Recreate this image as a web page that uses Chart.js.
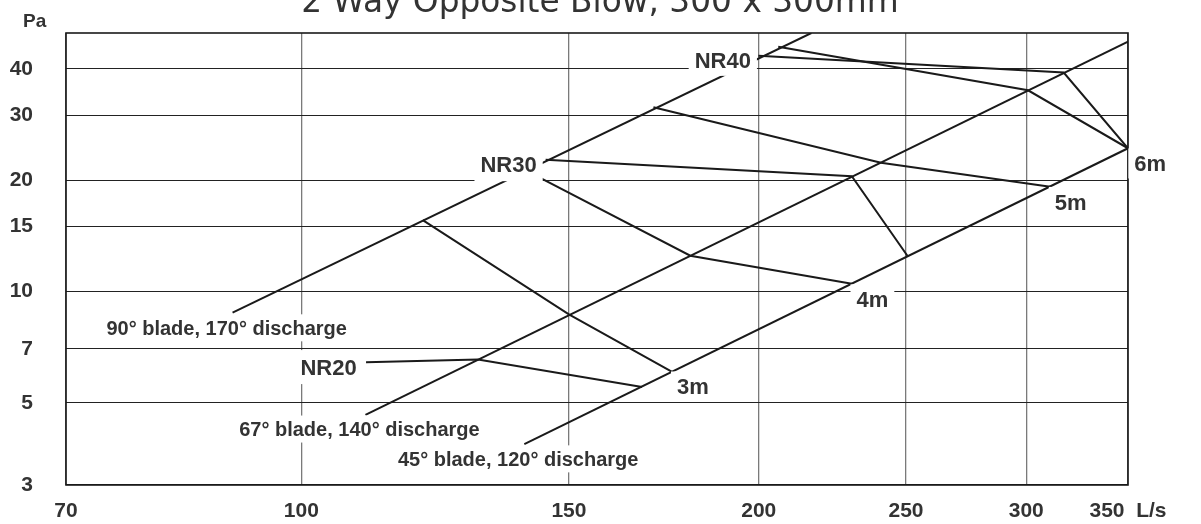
<!DOCTYPE html>
<html><head><meta charset="utf-8">
<script src="https://cdn.jsdelivr.net/npm/chart.js@4.4.1/dist/chart.umd.min.js"></script>
<style>html,body{margin:0;padding:0;background:#fff;}#wrap{width:1201px;height:524px;}</style>
</head><body><div id="wrap"><canvas id="c" width="1201" height="524"></canvas></div>
<script>
// ---- data (airflow L/s, pressure Pa) ----
const titleText = '2 Way Opposite Blow, 300 x 300mm';
const xUnit = 'L/s';
const yUnit = 'Pa';
const xTicks = [70, 100, 150, 200, 250, 300, 350];
const yTicks = [3, 5, 7, 10, 15, 20, 30, 40];
const xRange = [70, 350];
const yRange = [3, 50];

const blade90 = [[90.1, 8.77], [216.6, 50]];
const blade67 = [[110.2, 4.64], [350, 47.4]];
const blade45 = [[140.2, 3.87], [350, 24.4]];

const nr20 = [[110.3, 6.44], [130.7, 6.55], [167.6, 5.52]];
const nr30 = [[144.8, 22.7], [230.3, 20.5], [250.6, 12.48]];
const nr40 = [[199.9, 43.4], [317.5, 39.1], [350, 24.4]];

const throw3m = [[120.2, 15.6], [150, 8.68], [175.4, 6.07]];
const throw4m = [[140.4, 21.3], [180.3, 12.5], [230.3, 10.5]];
const throw5m = [[170.5, 31.5], [240.7, 22.3], [311.1, 19.2]];
const throw6m = [[206, 45.9], [300.8, 35.0], [350, 24.4]];

const labelTexts = ['90° blade, 170° discharge', '67° blade, 140° discharge', '45° blade, 120° discharge',
                    'NR20', 'NR30', 'NR40', '3m', '4m', '5m', '6m'];
const labelAnchors = [[89.3, 7.98], [109.2, 4.25], [138.9, 3.53],
                      [104.2, 6.25], [136.9, 22.1], [189.4, 42.3],
                      [181.0, 5.54], [237.6, 9.53], [320.9, 17.47], [362.0, 22.2]];

// ---- styling ----
const INK = '#1a1a1a';
const TXT = '#333333';
const FONT = "'Liberation Sans', Arial, sans-serif";
const labelSizes = [20, 20, 20, 22, 22, 22, 22, 22, 22, 22];
const labelBoxH = [27, 27, 27, 34, 34, 32, 30, 30, 30, 30];

const toPts = a => a.map(p => ({x: p[0], y: p[1]}));
const series = [blade90, blade67, blade45, nr20, nr30, nr40, throw3m, throw4m, throw5m, throw6m];

const overlay = {
  id: 'overlay',
  beforeDatasetsDraw(chart) {
    const {ctx, chartArea: a} = chart;
    ctx.save();
    ctx.strokeStyle = INK; ctx.lineWidth = 1.6;
    ctx.strokeRect(a.left, a.top, a.right - a.left, a.bottom - a.top);
    ctx.restore();
  },
  afterDatasetsDraw(chart) {
    const {ctx, scales: {x, y}} = chart;
    ctx.save();
    labelTexts.forEach((t, i) => {
      const cx = x.getPixelForValue(labelAnchors[i][0]);
      const cy = y.getPixelForValue(labelAnchors[i][1]);
      const fs = labelSizes[i];
      ctx.font = `bold ${fs}px ${FONT}`;
      const w = ctx.measureText(t).width;
      const h = labelBoxH[i];
      ctx.fillStyle = '#fff';
      ctx.fillRect(cx - w / 2 - 6, cy - h / 2, w + 12, h);
      ctx.fillStyle = TXT;
      ctx.textAlign = 'center';
      ctx.textBaseline = 'alphabetic';
      ctx.fillText(t, cx, cy + 0.358 * fs);
    });
    ctx.restore();
  },
  afterDraw(chart) {
    const {ctx, chartArea: a} = chart;
    ctx.save();
    ctx.fillStyle = TXT;
    ctx.font = "32.8px 'DejaVu Sans', Verdana, sans-serif";
    ctx.textAlign = 'center';
    ctx.textBaseline = 'alphabetic';
    ctx.fillText(titleText, 600, 12);
    ctx.font = `bold 19px ${FONT}`;
    ctx.textAlign = 'left';
    ctx.fillText(yUnit, a.left - 43, a.top - 6);
    ctx.restore();
  }
};

new Chart(document.getElementById('c'), {
  type: 'scatter',
  data: {
    datasets: series.map(s => ({
      data: toPts(s), showLine: true, borderColor: INK, borderWidth: 2,
      pointRadius: 0, fill: false, tension: 0
    }))
  },
  options: {
    responsive: false, animation: false,
    layout: {padding: {top: 33, right: 73, bottom: 0, left: 0}},
    plugins: {legend: {display: false}, tooltip: {enabled: false}, title: {display: false}},
    scales: {
      x: {
        type: 'logarithmic', min: xRange[0], max: xRange[1],
        afterBuildTicks: s => { s.ticks = xTicks.map(v => ({value: v})); },
        afterFit: s => { s.height = 39; s.paddingLeft = 0; s.paddingRight = 0; },
        border: {display: false},
        grid: {color: '#7a7a7a', lineWidth: 1.3, drawTicks: false},
        ticks: {autoSkip: false, maxRotation: 0, minRotation: 0, padding: 14, color: TXT,
          font: {family: FONT, size: 21, weight: 'bold'},
          callback: v => v === xRange[1] ? v + '  ' + xUnit : String(v)}
      },
      y: {
        type: 'logarithmic', min: yRange[0], max: yRange[1],
        afterBuildTicks: s => { s.ticks = yTicks.map(v => ({value: v})); },
        afterFit: s => { s.width = 66; s.paddingTop = 0; s.paddingBottom = 0; },
        border: {display: false},
        grid: {color: '#222', lineWidth: 1.1, drawTicks: false},
        ticks: {autoSkip: false, padding: 33, color: TXT,
          font: {family: FONT, size: 21, weight: 'bold'},
          callback: v => String(v)}
      }
    }
  },
  plugins: [overlay]
});
</script></body></html>
